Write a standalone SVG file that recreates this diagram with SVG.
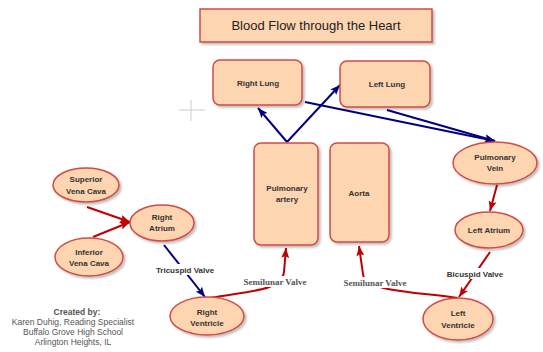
<svg xmlns="http://www.w3.org/2000/svg" width="543" height="352" viewBox="0 0 543 352">
<style>
.n{fill:#fdd5b0;stroke:#d24b45;stroke-width:1.5}
.t{font-family:"Liberation Sans",Arial,sans-serif;font-size:8px;font-weight:bold;fill:#333;text-anchor:middle}
.red{fill:none;stroke:#c00000;stroke-width:2}
.blue{fill:none;stroke:#000080;stroke-width:2}
.lbl{font-family:"Liberation Sans",Arial,sans-serif;font-size:8px;font-weight:bold;fill:#333;text-anchor:middle}
.ser{font-family:"Liberation Serif","Times New Roman",serif;font-size:9px;font-weight:bold;fill:#555;text-anchor:middle}
.cr{font-family:"Liberation Sans",Arial,sans-serif;font-size:8.5px;fill:#555;text-anchor:middle}
</style>
<defs>
<filter id="sh" x="-20%" y="-20%" width="150%" height="150%">
<feDropShadow dx="2" dy="2" stdDeviation="1" flood-color="#000" flood-opacity="0.25"/>
</filter>
<marker id="ar" viewBox="0 0 10 8" refX="10" refY="4" markerWidth="10" markerHeight="8" markerUnits="userSpaceOnUse" orient="auto">
<path d="M0,0 L10,4 L0,8 L2,4 z" fill="#c00000"/>
</marker>
<marker id="ab" viewBox="0 0 10 8" refX="10" refY="4" markerWidth="10" markerHeight="8" markerUnits="userSpaceOnUse" orient="auto">
<path d="M0,0 L10,4 L0,8 L2,4 z" fill="#000080"/>
</marker>
</defs>
<rect width="543" height="352" fill="#fff"/>
<g id="crosshair" stroke="#ccc" stroke-width="1">
<line x1="191" y1="100" x2="191" y2="121"/>
<line x1="179" y1="110" x2="205" y2="110"/>
</g>
<g id="title">
<rect class="n" x="200" y="9" width="232" height="33" filter="url(#sh)"/>
<text x="316" y="29.5" font-family="Liberation Sans,Arial,sans-serif" font-size="13" fill="#222" text-anchor="middle">Blood Flow through the Heart</text>
</g>
<g id="connectors">
<line class="red" x1="87" y1="207" x2="130" y2="222" marker-end="url(#ar)"/>
<line class="red" x1="93" y1="237" x2="130" y2="222" marker-end="url(#ar)"/>
<line class="blue" x1="164" y1="245" x2="205" y2="297" marker-end="url(#ab)"/>
<path class="red" d="M210,298 C245,291 282,292 284,272 L286,248" marker-end="url(#ar)"/>
<path class="red" d="M458,298 C420,292 364,292 363,274 L359,246" marker-end="url(#ar)"/>
<line class="red" x1="497" y1="185" x2="490" y2="211" marker-end="url(#ar)"/>
<line class="red" x1="490" y1="252" x2="459" y2="297" marker-end="url(#ar)"/>
<line class="blue" x1="287" y1="142" x2="258" y2="108" marker-end="url(#ab)"/>
<line class="blue" x1="287" y1="142" x2="340" y2="85" marker-end="url(#ab)"/>
<line class="blue" x1="305" y1="102" x2="495" y2="141" marker-end="url(#ab)"/>
<line class="blue" x1="387" y1="110" x2="495" y2="141" marker-end="url(#ab)"/>
<rect x="150" y="264" width="70" height="11" fill="#fff"/>
<text class="lbl" x="185" y="273">Tricuspid Valve</text>
<rect x="440" y="268" width="70" height="11" fill="#fff"/>
<text class="lbl" x="475" y="277">Bicuspid Valve</text>
<rect x="242" y="276" width="66" height="11" fill="#fff"/>
<text class="ser" x="275" y="285">Semilunar Valve</text>
<rect x="342" y="277" width="66" height="11" fill="#fff"/>
<text class="ser" x="375" y="286">Semilunar Valve</text>
</g>
<g id="right-lung">
<rect class="n" x="213" y="60" width="89" height="45" rx="7" filter="url(#sh)"/>
<text class="t" x="258" y="86">Right Lung</text>
</g>
<g id="left-lung">
<rect class="n" x="340" y="61" width="90" height="46" rx="7" filter="url(#sh)"/>
<text class="t" x="387" y="87">Left Lung</text>
</g>
<g id="pulmonary-artery">
<rect class="n" x="254" y="143" width="64" height="102" rx="7" filter="url(#sh)"/>
<text class="t" x="287" y="191">Pulmonary</text>
<text class="t" x="287" y="202">artery</text>
</g>
<g id="aorta">
<rect class="n" x="330" y="143" width="59" height="99" rx="7" filter="url(#sh)"/>
<text class="t" x="359" y="196">Aorta</text>
</g>
<g id="pulmonary-vein">
<ellipse class="n" cx="495" cy="163" rx="42" ry="21" filter="url(#sh)"/>
<text class="t" x="495" y="160">Pulmonary</text>
<text class="t" x="495" y="171">Vein</text>
</g>
<g id="left-atrium">
<ellipse class="n" cx="489" cy="230" rx="34" ry="18" filter="url(#sh)"/>
<text class="t" x="489" y="233">Left Atrium</text>
</g>
<g id="left-ventricle">
<ellipse class="n" cx="458" cy="319" rx="35" ry="21" filter="url(#sh)"/>
<text class="t" x="458" y="316">Left</text>
<text class="t" x="458" y="328">Ventricle</text>
</g>
<g id="superior-vena-cava">
<ellipse class="n" cx="86" cy="185" rx="33" ry="17" filter="url(#sh)"/>
<text class="t" x="86" y="182">Superior</text>
<text class="t" x="86" y="194">Vena Cava</text>
</g>
<g id="inferior-vena-cava">
<ellipse class="n" cx="89" cy="257" rx="34" ry="19" filter="url(#sh)"/>
<text class="t" x="89" y="255">Inferior</text>
<text class="t" x="89" y="266">Vena Cava</text>
</g>
<g id="right-atrium">
<ellipse class="n" cx="162" cy="223" rx="32" ry="18" filter="url(#sh)"/>
<text class="t" x="162" y="220">Right</text>
<text class="t" x="162" y="231">Atrium</text>
</g>
<g id="right-ventricle">
<ellipse class="n" cx="207" cy="316" rx="37" ry="19" filter="url(#sh)"/>
<text class="t" x="207" y="315">Right</text>
<text class="t" x="207" y="326">Ventricle</text>
</g>
<g id="credits">
<text class="cr" x="77" y="315" font-weight="bold" fill="#333">Created by:</text>
<text class="cr" x="73" y="325">Karen Duhig, Reading Specialist</text>
<text class="cr" x="73" y="335">Buffalo Grove High School</text>
<text class="cr" x="73" y="345">Arlington Heights, IL</text>
</g>
</svg>
